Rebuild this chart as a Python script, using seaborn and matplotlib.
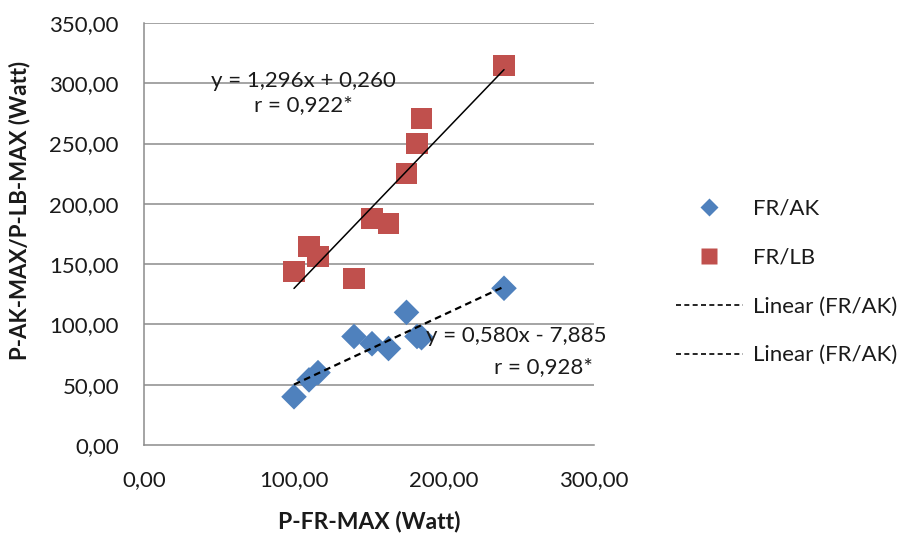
import matplotlib
matplotlib.use("Agg")
import matplotlib.pyplot as plt
from matplotlib.lines import Line2D
import seaborn as sns
import pandas as pd

# Peak power per subject (Watt)
fr_max = [100, 110, 116, 140, 152, 163, 175, 182, 185, 240]
ak_max = [40, 54, 60, 90, 84, 80, 110, 90, 89, 130]
lb_max = [144, 165, 156, 138, 188, 184, 225, 250, 271, 315]

# Linear trend coefficients (slope, intercept) and correlations
ak_fit = (0.580, -7.885)
lb_fit = (1.296, 0.260)
ak_r = "0,928*"
lb_r = "0,922*"

series_names = ["FR/AK", "FR/LB"]
legend_labels = ["FR/AK", "FR/LB", "Linear (FR/AK)", "Linear (FR/AK)"]
x_ticks = [0, 100, 200, 300]
y_ticks = [0, 50, 100, 150, 200, 250, 300, 350]

BLUE = "#4F81BD"
RED = "#C0504D"
GRID = "#8C8C8C"
TXT = "#1a1a1a"
FS = 16

sns.set_theme(style="white")
plt.rcParams["font.family"] = ["Lato", "DejaVu Sans"]

df = pd.DataFrame({
    "x": fr_max + fr_max,
    "y": ak_max + lb_max,
    "serie": [series_names[0]] * len(fr_max) + [series_names[1]] * len(fr_max),
})

fig = plt.figure(figsize=(9.07, 5.33), dpi=100)
ax = fig.add_axes([144 / 907, 1 - 445 / 533, 450 / 907, 422 / 533])

ax.set_xlim(0, 300)
ax.set_ylim(0, 350)
for yv in y_ticks[1:]:
    ax.axhline(yv, color=GRID, lw=1.1, zorder=0)

# trend lines drawn from the fitted coefficients
def fit_line(fit, x0, x1):
    m, b = fit
    return [x0, x1], [m * x0 + b, m * x1 + b]

xs, ys = fit_line(lb_fit, min(fr_max), max(fr_max))
ax.plot(xs, ys, color="black", lw=1.1, zorder=3)
xs, ys = fit_line(ak_fit, min(fr_max), max(fr_max))
ax.plot(xs, ys, color="black", lw=1.6, ls=(0, (3, 2)), zorder=3)

sns.scatterplot(
    data=df[df.serie == "FR/AK"], x="x", y="y", ax=ax,
    marker="D", s=170, color=BLUE, edgecolor="none", zorder=2, legend=False,
)
sns.scatterplot(
    data=df[df.serie == "FR/LB"], x="x", y="y", ax=ax,
    marker="s", s=230, color=RED, edgecolor="none", zorder=2, legend=False,
)

def fmt(v):
    return f"{v:.2f}".replace(".", ",")

ax.set_xticks(x_ticks)
ax.set_xticklabels([fmt(v) for v in x_ticks])
ax.set_yticks(y_ticks)
ax.set_yticklabels([fmt(v) for v in y_ticks])
ax.tick_params(axis="both", which="major", direction="out", length=7, width=1,
               color=GRID, labelsize=FS, labelcolor=TXT)
ax.tick_params(axis="y", pad=11)
ax.tick_params(axis="x", pad=11)

for side in ["top", "right"]:
    ax.spines[side].set_visible(False)
for side in ["left", "bottom"]:
    ax.spines[side].set_color(GRID)
    ax.spines[side].set_linewidth(1.1)

ax.set_xlabel("")
ax.set_ylabel("")
fig.text(369 / 907, 1 - 521 / 533, "P-FR-MAX (Watt)", ha="center", va="center",
         fontsize=FS + 0.5, fontweight="bold", color=TXT)
fig.text(20 / 907, 1 - 210 / 533, "P-AK-MAX/P-LB-MAX (Watt)", ha="center", va="center",
         rotation=90, fontsize=FS, fontweight="bold", color=TXT)

def coef(v):
    return f"{abs(v):.3f}".replace(".", ",")

m, b = lb_fit
ax.text(106, 292, f"y = {coef(m)}x + {coef(b)}\nr = {lb_r}", ha="center", va="center",
        fontsize=FS, color=TXT, linespacing=1.3)
m, b = ak_fit
ax.text(308, 90.5, f"y = {coef(m)}x - {coef(b)}", ha="right", va="center",
        fontsize=FS, color=TXT, clip_on=False)
ax.text(299, 65, f"r = {ak_r}", ha="right", va="center",
        fontsize=FS, color=TXT, clip_on=False)

handles = [
    Line2D([], [], marker="D", color=BLUE, ls="none", markersize=9, markeredgecolor="none"),
    Line2D([], [], marker="s", color=RED, ls="none", markersize=12, markeredgecolor="none"),
    Line2D([], [], color="black", ls=(0, (3, 2)), lw=1.2),
    Line2D([], [], color="black", ls=(0, (3, 2)), lw=1.2),
]
fig.legend(handles, legend_labels, loc="center left", bbox_to_anchor=(656 / 907, 1 - 282 / 533),
           frameon=False, fontsize=FS, handlelength=3.0, handletextpad=0.45,
           labelspacing=1.3, labelcolor=TXT)

fig.savefig("out.png", dpi=100)
